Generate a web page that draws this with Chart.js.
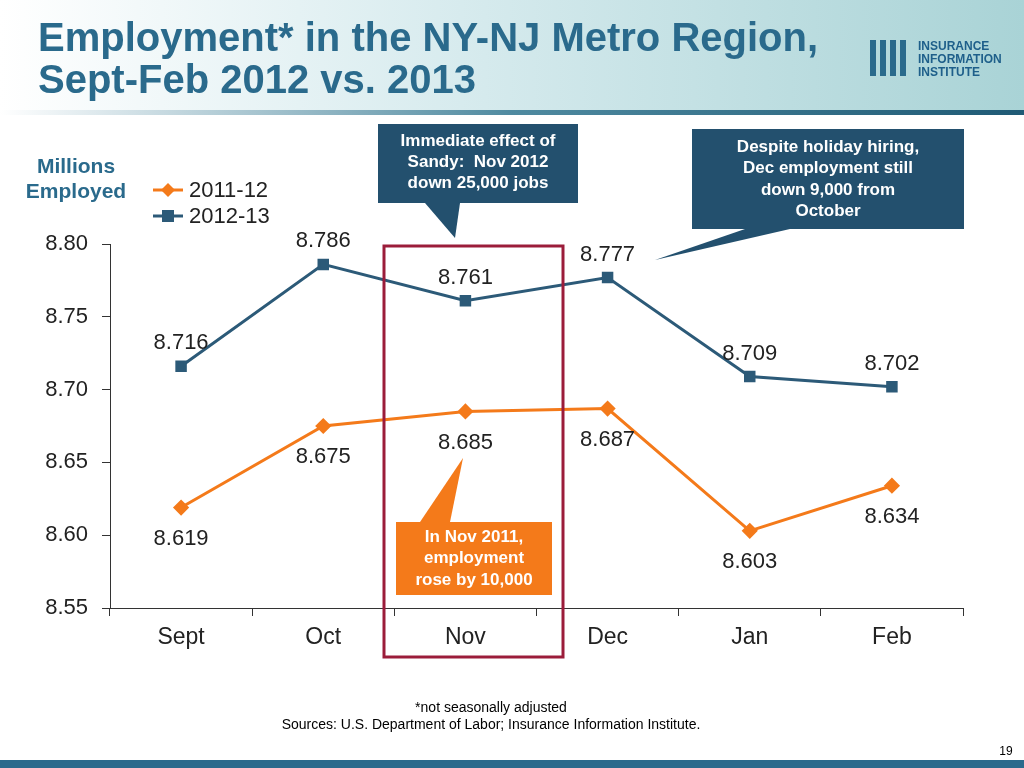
<!DOCTYPE html><html><head><meta charset="utf-8">
<script src="https://cdn.jsdelivr.net/npm/chart.js@4"></script>
<style>html,body{margin:0;padding:0;background:#fff}#w{position:relative;width:1024px;height:768px;overflow:hidden}
canvas{position:absolute;left:0;top:0}</style></head><body><div id="w"><canvas id="c" width="1024" height="768"></canvas></div>
<script>
const categories=["Sept","Oct","Nov","Dec","Jan","Feb"];
const series2011=[8.619,8.675,8.685,8.687,8.603,8.634];
const series2012=[8.716,8.786,8.761,8.777,8.709,8.702];
const yTicks=[8.55,8.60,8.65,8.70,8.75,8.80];
const NAR='"Liberation Sans Narrow","Arial Narrow","Liberation Sans",sans-serif';
const SANS='"Liberation Sans",Arial,sans-serif';
const BLUE='#2c5a78',ORANGE='#f47a1a';
const extras={id:'extras',
beforeDraw(ch){const c=ch.ctx;c.save();
 let g=c.createLinearGradient(0,0,1024,0);g.addColorStop(0,'#ffffff');g.addColorStop(0.45,'#d7ebee');g.addColorStop(1,'#a9d3d6');
 c.fillStyle=g;c.fillRect(0,0,1024,112);
 let g2=c.createLinearGradient(0,108,1024,108);g2.addColorStop(0,'#ffffff');g2.addColorStop(0.5,'#4f8aa0');g2.addColorStop(1,'#1f5a75');
 c.fillStyle=g2;c.fillRect(0,110,1024,5);
 c.fillStyle='#2a6a8c';c.font='bold 40px '+SANS;c.textBaseline='alphabetic';
 c.fillText('Employment* in the NY-NJ Metro Region,',38,51);c.fillText('Sept-Feb 2012 vs. 2013',38,93);
 c.fillStyle='#2a6a8c';for(let i=0;i<4;i++){c.fillRect(870+i*10,40,6,36);}
 c.fillStyle='#1e5f8a';c.font='bold 12px '+SANS;c.fillText('INSURANCE',918,50);c.fillText('INFORMATION',918,63);c.fillText('INSTITUTE',918,76);
 c.fillStyle='#2a6a8c';c.fillRect(0,760,1024,8);
 c.restore();},
afterDraw(ch){const c=ch.ctx,x=ch.scales.x,y=ch.scales.y;c.save();
 c.textAlign='center';c.font='22px '+NAR;c.fillStyle='#222';
 series2012.forEach((v,i)=>{c.textBaseline='bottom';c.fillText(v.toFixed(3),x.getPixelForValue(i),y.getPixelForValue(v)-12);});
 series2011.forEach((v,i)=>{c.textBaseline='top';c.fillText(v.toFixed(3),x.getPixelForValue(i),y.getPixelForValue(v)+20);});
 c.fillStyle='#2a6a8c';c.font='bold 21px '+SANS;c.textBaseline='alphabetic';c.fillText('Millions',76,173);c.fillText('Employed',76,198);
 c.textAlign='left';c.font='22px '+NAR;c.fillStyle='#222';
 [[ORANGE,'2011-12',190,'rectRot'],[BLUE,'2012-13',216,'rect']].forEach(([col,t,yy,s])=>{
  c.strokeStyle=col;c.lineWidth=3;c.beginPath();c.moveTo(153,yy);c.lineTo(183,yy);c.stroke();
  c.fillStyle=col;c.beginPath();if(s==='rect'){c.rect(162,yy-6,12,12);}else{c.moveTo(168,yy-7);c.lineTo(175,yy);c.lineTo(168,yy+7);c.lineTo(161,yy);c.closePath();}c.fill();
  c.fillStyle='#222';c.textBaseline='middle';c.fillText(t,189,yy+1);});
 c.strokeStyle='#9b1c3a';c.lineWidth=3;c.strokeRect(384,246,179,411);
 c.fillStyle='#23506e';c.fillRect(378,124,200,79);
 c.beginPath();c.moveTo(425,203);c.lineTo(460,203);c.lineTo(455,238);c.closePath();c.fill();
 c.fillRect(692,129,272,100);
 c.beginPath();c.moveTo(745,229);c.lineTo(790,229);c.lineTo(655,260);c.closePath();c.fill();
 c.fillStyle=ORANGE;c.fillRect(396,522,156,73);
 c.beginPath();c.moveTo(420,522);c.lineTo(450,522);c.lineTo(463,458);c.closePath();c.fill();
 c.fillStyle='#fff';c.font='bold 17px '+SANS;c.textAlign='center';c.textBaseline='middle';
 ['Immediate effect of','Sandy:  Nov 2012','down 25,000 jobs'].forEach((t,i)=>c.fillText(t,478,141+i*21));
 ['Despite holiday hiring,','Dec employment still','down 9,000 from','October'].forEach((t,i)=>c.fillText(t,828,147+i*21.5));
 ['In Nov 2011,','employment','rose by 10,000'].forEach((t,i)=>c.fillText(t,474,537+i*21.5));
 c.fillStyle='#000';c.font='14px '+SANS;c.fillText('*not seasonally adjusted',491,708);
 c.fillText('Sources: U.S. Department of Labor; Insurance Information Institute.',491,725);
 c.font='12px '+SANS;c.fillText('19',1006,752);
 c.restore();}};
new Chart(document.getElementById('c'),{type:'line',
data:{labels:categories,datasets:[
 {label:'2011-12',data:series2011,borderColor:ORANGE,backgroundColor:ORANGE,borderWidth:3,pointStyle:'rectRot',pointRadius:6,tension:0},
 {label:'2012-13',data:series2012,borderColor:BLUE,backgroundColor:BLUE,borderWidth:3,pointStyle:'rect',pointRadius:6,tension:0}]},
options:{responsive:false,animation:false,devicePixelRatio:1,
 layout:{padding:{top:244,right:61,left:0,bottom:0}},
 plugins:{legend:{display:false},tooltip:{enabled:false}},
 scales:{
  x:{offset:true,grid:{display:true,drawOnChartArea:false,offset:true,color:'#333',tickLength:8},border:{color:'#333'},
   ticks:{color:'#222',font:{size:23,family:NAR},padding:8},afterFit(s){s.height=160;}},
  y:{min:8.55,max:8.80,afterBuildTicks(s){s.ticks=yTicks.map(v=>({value:v}));},
   grid:{drawOnChartArea:false,color:'#333',tickLength:8},border:{color:'#333'},
   ticks:{color:'#222',font:{size:22,family:NAR},callback:v=>v.toFixed(2),padding:14},afterFit(s){s.width=110;}}}},
plugins:[extras]});
</script></body></html>
